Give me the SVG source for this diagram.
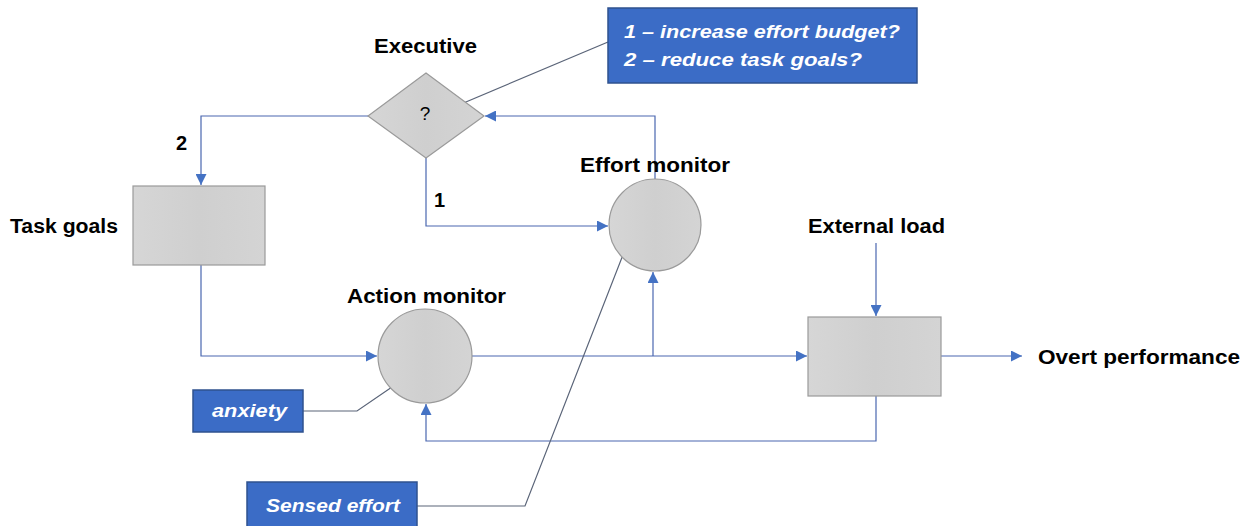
<svg xmlns="http://www.w3.org/2000/svg" width="1253" height="526" viewBox="0 0 1253 526">
<defs>
<marker id="arr" viewBox="0 0 10 10" refX="10" refY="5" markerWidth="11" markerHeight="11" markerUnits="userSpaceOnUse" orient="auto">
<path d="M0,0 L10,5 L0,10 z" fill="#4472c4"/>
</marker>
<linearGradient id="g" x1="0" y1="0" x2="1" y2="0">
<stop offset="0" stop-color="#d6d6d6"/><stop offset="0.5" stop-color="#cfcfcf"/><stop offset="1" stop-color="#d4d4d4"/>
</linearGradient>
</defs>
<style>
.lbl{font-family:"Liberation Sans",Arial,sans-serif;font-weight:bold;font-size:20px;fill:#000}
.shape{fill:url(#g);stroke:#9a9a9a;stroke-width:1.2}
.blue{fill:#3b6cc6;stroke:#2f528f;stroke-width:1.5}
.btxt{font-family:"Liberation Sans",Arial,sans-serif;font-weight:bold;font-style:italic;font-size:19px;fill:#fff}
.con{fill:none;stroke:#4a67b0;stroke-width:1.2}
.lead{fill:none;stroke:#5a6478;stroke-width:1.2}
</style>
<rect width="1253" height="526" fill="#fff"/>
<g id="connectors">
<path class="con" d="M368,116 H201 V185" marker-end="url(#arr)"/>
<path class="con" d="M426,158 V226 H608" marker-end="url(#arr)"/>
<path class="con" d="M655,179 V116 H485" marker-end="url(#arr)"/>
<path class="con" d="M201,265 V356 H377" marker-end="url(#arr)"/>
<path class="con" d="M472,356 H807" marker-end="url(#arr)"/>
<path class="con" d="M653,356 V272" marker-end="url(#arr)"/>
<path class="con" d="M876,243 V316" marker-end="url(#arr)"/>
<path class="con" d="M941,356 H1022" marker-end="url(#arr)"/>
<path class="con" d="M876,396 V441 H426 V404" marker-end="url(#arr)"/>
<path class="lead" d="M608,42 L428,118"/>
<path class="lead" d="M303,411 H357 L392,387"/>
<path class="lead" d="M417,506 H525 L628,242"/>
<text class="lbl" x="176" y="150">2</text>
<text class="lbl" x="434" y="207">1</text>
</g>
<g id="executive">
<polygon class="shape" points="426,73 484,116 426,158 368,116"/>
<text x="425" y="120" text-anchor="middle" font-family="Liberation Sans,Arial,sans-serif" font-size="19" fill="#000">?</text>
<text class="lbl" x="374" y="53" textLength="103" lengthAdjust="spacingAndGlyphs">Executive</text>
</g>
<g id="callout">
<rect class="blue" x="608" y="8" width="309" height="75"/>
<text class="btxt" x="624" y="38" textLength="276" lengthAdjust="spacingAndGlyphs">1 – increase effort budget?</text>
<text class="btxt" x="624" y="66" textLength="238" lengthAdjust="spacingAndGlyphs">2 – reduce task goals?</text>
</g>
<g id="task-goals">
<rect class="shape" x="133" y="186" width="132" height="79"/>
<text class="lbl" x="10" y="233" textLength="108" lengthAdjust="spacingAndGlyphs">Task goals</text>
</g>
<g id="effort-monitor">
<circle class="shape" cx="655" cy="225" r="46"/>
<text class="lbl" x="580" y="172" textLength="150" lengthAdjust="spacingAndGlyphs">Effort monitor</text>
</g>
<g id="action-monitor">
<circle class="shape" cx="425" cy="356" r="47"/>
<text class="lbl" x="347" y="303" textLength="159" lengthAdjust="spacingAndGlyphs">Action monitor</text>
</g>
<g id="process">
<rect class="shape" x="808" y="317" width="133" height="79"/>
<text class="lbl" x="808" y="233" textLength="137" lengthAdjust="spacingAndGlyphs">External load</text>
</g>
<g id="overt">
<text class="lbl" x="1038" y="364" textLength="202" lengthAdjust="spacingAndGlyphs">Overt performance</text>
</g>
<g id="anxiety">
<rect class="blue" x="193" y="390" width="110" height="42"/>
<text class="btxt" x="212" y="417" textLength="75" lengthAdjust="spacingAndGlyphs">anxiety</text>
</g>
<g id="sensed-effort">
<rect class="blue" x="247" y="482" width="170" height="46"/>
<text class="btxt" x="266" y="512" textLength="134" lengthAdjust="spacingAndGlyphs">Sensed effort</text>
</g>
</svg>
